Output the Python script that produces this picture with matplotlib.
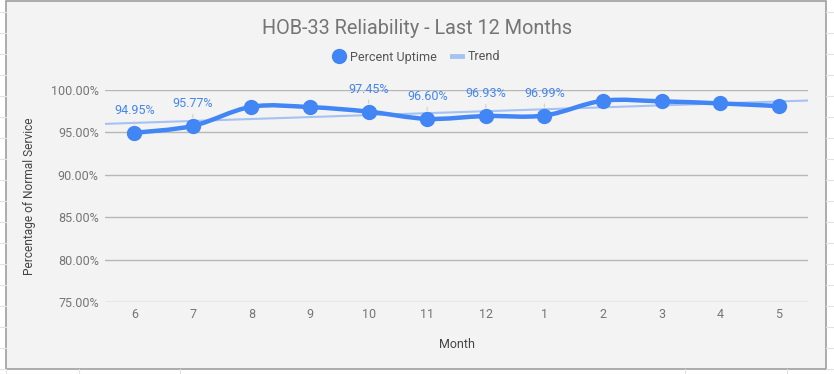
import numpy as np
import matplotlib.pyplot as plt
from matplotlib.lines import Line2D
from matplotlib.patches import Rectangle, PathPatch
from matplotlib.path import Path

plt.rcParams['font.family'] = ['Roboto', 'DejaVu Sans']

months = ['6', '7', '8', '9', '10', '11', '12', '1', '2', '3', '4', '5']
uptime = [94.95, 95.77, 98.02, 97.98, 97.45, 96.60, 96.93, 96.99, 98.73, 98.66, 98.42, 98.10]
labelled = [0, 1, 4, 5, 6, 7]   # points that carry a data label
yticks = [75, 80, 85, 90, 95, 100]

blue = '#4285f4'
trend_col = '#a4c2f4'
grey_txt = '#757575'

W, H = 834, 374
fig = plt.figure(figsize=(W / 100, H / 100), dpi=100, facecolor='white')

# spreadsheet cells peeking around the chart
for yy in range(12, 374, 21):
    fig.add_artist(Line2D([0, 6 / W], [1 - yy / H] * 2, color='#e2e2e2', lw=0.8))
    fig.add_artist(Line2D([826 / W, 1], [1 - yy / H] * 2, color='#e2e2e2', lw=0.8))
for xx in [6, 79, 180, 685, 787]:
    fig.add_artist(Line2D([xx / W] * 2, [0, 5 / H], color='#e2e2e2', lw=0.8))

# chart card
fig.add_artist(Rectangle((6 / W, 1 - 369 / H), 820 / W, 368 / H, transform=fig.transFigure,
                         facecolor='#f3f3f3', edgecolor='#9e9e9e', lw=1.2, zorder=0))

ax = fig.add_axes([105 / W, 1 - 302 / H, 703 / W, 212 / H])
ax.set_facecolor('none')
x = np.arange(len(months))
y = np.array(uptime)

# trend line across the whole plot width
k, b = np.polyfit(x, y, 1)
xl = np.array([-0.5, len(months) - 0.5])
ax.plot(xl, k * xl + b, color=trend_col, lw=1.5, zorder=2)

# smoothed data line (Catmull-Rom -> cubic Bezier)
verts = [(x[0], y[0])]
codes = [Path.MOVETO]
t = 0.17
for i in range(len(x) - 1):
    p0 = (x[max(i - 1, 0)], y[max(i - 1, 0)])
    p1 = (x[i], y[i])
    p2 = (x[i + 1], y[i + 1])
    p3 = (x[min(i + 2, len(x) - 1)], y[min(i + 2, len(x) - 1)])
    c1 = (p1[0] + (p2[0] - p0[0]) * t, p1[1] + (p2[1] - p0[1]) * t)
    c2 = (p2[0] - (p3[0] - p1[0]) * t, p2[1] - (p3[1] - p1[1]) * t)
    verts += [c1, c2, p2]
    codes += [Path.CURVE4] * 3
ax.add_patch(PathPatch(Path(verts, codes), facecolor='none', edgecolor=blue, lw=3.2,
                       capstyle='round', joinstyle='round', zorder=3))
ax.plot(x, y, 'o', color=blue, ms=10, zorder=4)

for i in labelled:
    ax.annotate(f'{uptime[i]:.2f}%', (x[i], y[i]), xytext=(0, 16), textcoords='offset points',
                ha='center', va='center', color=blue, fontsize=9, annotation_clip=False,
                arrowprops=dict(arrowstyle='-', color='#d0d0d0', lw=0.8, shrinkA=1, shrinkB=6),
                zorder=5)

ax.set_xlim(-0.5, len(months) - 0.5)
ax.set_ylim(75, 100)
ax.set_xticks(x)
ax.set_xticklabels(months)
ax.set_yticks(yticks)
ax.set_yticklabels([f'{v:.2f}%' for v in yticks])
ax.grid(axis='y', color='#b7b7b7', lw=1)
ax.set_axisbelow(True)
for s in ax.spines.values():
    s.set_visible(False)
ax.tick_params(length=0, labelsize=9, labelcolor=grey_txt)
ax.tick_params(axis='y', pad=4.5)
ax.tick_params(axis='x', pad=4.5)

ax.set_xlabel('Month', fontsize=9, color='#444444')
ax.xaxis.set_label_coords(0.5, -42 / 212)
ax.xaxis.label.set_va('center')
ax.set_ylabel('Percentage of Normal Service', fontsize=8.6, color='#444444')
ax.yaxis.set_label_coords(-75 / 703, 0.5)
ax.yaxis.label.set_va('center')

fig.text(417 / W, 1 - 28 / H, 'HOB-33 Reliability - Last 12 Months', ha='center', va='center',
         fontsize=14.3, color=grey_txt)

handles = [Line2D([], [], marker='o', ls='none', color=blue, ms=10),
           Line2D([], [], color=trend_col, lw=3.5)]
fig.legend(handles, ['Percent Uptime', 'Trend'], loc='center', ncol=2, frameon=False,
           bbox_to_anchor=(417 / W, 1 - 57 / H), fontsize=9, labelcolor='#555555',
           handlelength=0.8, handletextpad=0.5, columnspacing=1.2)

fig.savefig('out.png', dpi=100, facecolor='white')
